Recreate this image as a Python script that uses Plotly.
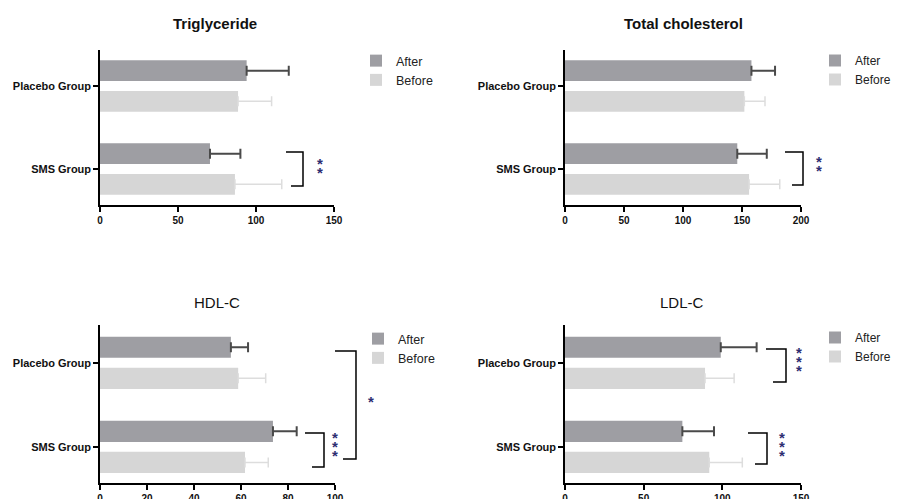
import plotly.graph_objects as go

# ---------------- data ----------------
groups = ["Placebo Group", "SMS Group"]
panel_titles = ["Triglyceride", "Total cholesterol", "HDL-C", "LDL-C"]
series_names = ["After", "Before"]

tg_after = [94, 70.5]
tg_after_err = [27, 19.5]
tg_before = [88.5, 86.5]
tg_before_err = [21.5, 30]

tc_after = [158, 146]
tc_after_err = [20, 25]
tc_before = [152, 156]
tc_before_err = [17.5, 26]

hdl_after = [55.7, 73.6]
hdl_after_err = [7.3, 10.1]
hdl_before = [58.8, 61.7]
hdl_before_err = [11.7, 9.9]

ldl_after = [99, 74.6]
ldl_after_err = [22.8, 20.1]
ldl_before = [89, 91.7]
ldl_before_err = [18.5, 21]

x_max = [150, 200, 100, 150]
x_dtick = [50, 50, 20, 50]

sig_labels = ["**", "**", "***", "*", "***", "***"]

# ---------------- layout helpers ----------------
# the page body has an 8px margin; positions below are in window pixels
OFF = 8
W, H = 900 - OFF, 499 - OFF
def px(x):
    return (x - OFF) / W
def py(y):
    return 1 - (y - OFF) / H

AFTER_COL = "#9e9ea3"
BEFORE_COL = "#d6d6d6"
AFTER_ERR = "#4a4a4a"
BEFORE_ERR = "#dddddd"
STAR_COL = "#2e2e72"
FONT = "Arial"

panels = [
    (tg_after, tg_after_err, tg_before, tg_before_err),
    (tc_after, tc_after_err, tc_before, tc_before_err),
    (hdl_after, hdl_after_err, hdl_before, hdl_before_err),
    (ldl_after, ldl_after_err, ldl_before, ldl_before_err),
]

# pixel boxes (window coords): (x0, x1, ytop, ybottom)
boxes = [(100, 334, 50, 205), (565, 801, 50, 205), (100, 335, 325, 483), (565, 801, 325, 483)]
cat_ranges = [[-0.434, 1.434], [-0.434, 1.434], [-0.43, 1.45], [-0.43, 1.45]]
title_pos = [(215, 23, True), (683, 23, True), (217, 302, False), (682, 302, False)]
legend_pos = [(356, 46), (815, 46), (358, 324), (815, 323)]
legend_font = [12.5, 12, 12.5, 12]

fig = go.Figure()
layout = dict(
    width=W, height=H,
    margin=dict(l=0, r=0, t=0, b=0, autoexpand=False),
    paper_bgcolor="white", plot_bgcolor="white",
    barmode="group", bargap=0.26, bargroupgap=0.32,
    font=dict(family=FONT, color="#222222"),
    showlegend=True,
)

for i, (a, ae, b, be) in enumerate(panels):
    sfx = "" if i == 0 else str(i + 1)
    xa, ya = "x" + sfx, "y" + sfx
    leg = "legend" + sfx
    fig.add_trace(go.Bar(
        y=groups, x=b, orientation="h", name=series_names[1],
        marker=dict(color=BEFORE_COL, line=dict(width=0)),
        error_x=dict(type="data", array=be, arrayminus=[0] * len(be), symmetric=False,
                     color=BEFORE_ERR, thickness=1.5, width=5),
        xaxis=xa, yaxis=ya, legend=leg, legendrank=2,
    ))
    fig.add_trace(go.Bar(
        y=groups, x=a, orientation="h", name=series_names[0],
        marker=dict(color=AFTER_COL, line=dict(width=0)),
        error_x=dict(type="data", array=ae, arrayminus=[0] * len(ae), symmetric=False,
                     color=AFTER_ERR, thickness=2, width=5),
        xaxis=xa, yaxis=ya, legend=leg, legendrank=1,
    ))
    x0, x1, yt, yb = boxes[i]
    layout["xaxis" + sfx] = dict(
        domain=[px(x0), px(x1)], anchor=ya, range=[0, x_max[i]], dtick=x_dtick[i], tick0=0,
        showgrid=False, zeroline=False, showline=True, linecolor="black", linewidth=1.5,
        ticks="outside", ticklen=5, tickwidth=1.5, tickcolor="black",
        tickfont=dict(family=FONT, size=10, color="#111111", weight="bold"),
        fixedrange=True, automargin=False,
    )
    layout["yaxis" + sfx] = dict(
        domain=[py(yb), py(yt)], anchor=xa, type="category",
        categoryorder="array", categoryarray=groups[::-1], range=cat_ranges[i],
        showgrid=False, zeroline=False, showline=True, linecolor="black", linewidth=1.5,
        ticks="outside", ticklen=5, tickwidth=1.5, tickcolor="black",
        tickfont=dict(family=FONT, size=11, color="#111111", weight="bold"),
        fixedrange=True, automargin=False,
    )
    lx, ly = legend_pos[i]
    layout[leg] = dict(
        x=px(lx), y=py(ly), xanchor="left", yanchor="top",
        font=dict(family=FONT, size=legend_font[i], color="#222222"),
        bgcolor="rgba(0,0,0,0)", borderwidth=0, traceorder="normal",
        itemwidth=30,
    )

annotations = []
for i, t in enumerate(panel_titles):
    tx, ty, bold = title_pos[i]
    annotations.append(dict(
        x=px(tx), y=py(ty), xref="paper", yref="paper", text=t, showarrow=False,
        xanchor="center", yanchor="middle",
        font=dict(family=FONT, size=15, color="#111111", weight="bold" if bold else "normal"),
    ))

# significance brackets (window pixel geometry): top arm x0, bottom arm x0, vertical x, ytop, ybottom
brackets = [
    (286, 291, 303, 152, 186),
    (785, 792, 803, 152, 185),
    (305, 312, 324, 433, 467),
    (335, 343, 356, 351, 459),
    (766, 773, 786, 349, 382),
    (748, 755, 767, 433, 464),
]
# star positions: x, ycenter
star_pos = [(320, 166.5), (819, 165), (335, 445.5), (371, 400), (799, 360), (782, 445)]

shapes = []
for (xt, xb, xv, y0, y1) in brackets:
    path = "M {:.5f},{:.5f} L {:.5f},{:.5f} L {:.5f},{:.5f} L {:.5f},{:.5f}".format(
        px(xt), py(y0), px(xv), py(y0), px(xv), py(y1), px(xb), py(y1))
    shapes.append(dict(type="path", path=path, xref="paper", yref="paper",
                       line=dict(color="black", width=1.5)))

for lab, (sx, sy) in zip(sig_labels, star_pos):
    n = len(lab)
    for k in range(n):
        yy = sy + (k - (n - 1) / 2) * 9
        annotations.append(dict(
            x=px(sx), y=py(yy + 1), xref="paper", yref="paper", text="*", showarrow=False,
            xanchor="center", yanchor="middle",
            font=dict(family=FONT, size=15, color=STAR_COL, weight="bold"),
        ))

layout["annotations"] = annotations
layout["shapes"] = shapes
fig.update_layout(**layout)
fig.write_html("out.html")
